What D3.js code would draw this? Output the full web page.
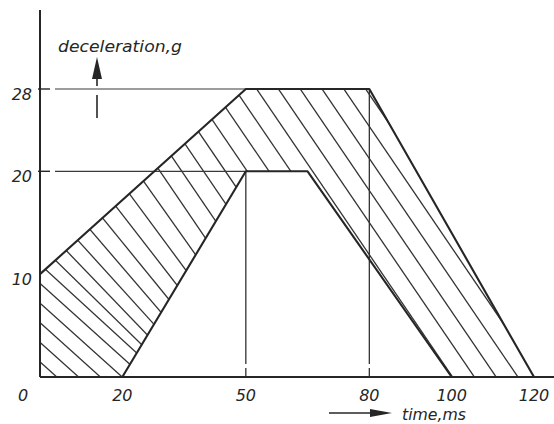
<!DOCTYPE html>
<html>
<head>
<meta charset="utf-8">
<script src="https://cdn.jsdelivr.net/npm/d3@7"></script>
<style>
  html, body { margin: 0; padding: 0; background: #fff; }
  svg { display: block; }
  text { font-family: "DejaVu Sans", sans-serif; font-style: italic; fill: #262626; }
</style>
</head>
<body>
<svg id="chart" width="554" height="424"></svg>
<script>
// ---- data ----
const xTickValues = [0, 20, 50, 80, 100, 120];          // time, ms
const yTickValues = [10, 20, 28];                       // deceleration, g
const gridValues = [20, 28];
const upperTime  = [0, 50, 80, 120];                    // upper limit corridor
const upperDecel = [10, 28, 28, 0];
const lowerTime  = [20, 50, 65, 100];                   // lower limit corridor
const lowerDecel = [0, 20, 20, 0];
const dropLines  = [{t: 50, g: 20}, {t: 80, g: 28}];
const yLabel = "deceleration,g";
const xLabel = "time,ms";

// ---- layout ----
const svg = d3.select("#chart");
const x = d3.scaleLinear().domain([0, 120]).range([40, 534]);
const y = d3.scaleLinear().domain([0, 28]).range([377, 89]);
const ink = "#262626";

const upper = upperTime.map((t, i) => [t, upperDecel[i]]);
const lower = lowerTime.map((t, i) => [t, lowerDecel[i]]);
const line = d3.line().x(d => x(d[0])).y(d => y(d[1]));

// hatched region = outer polygon minus inner polygon
const outerPoly = [[0, 0], ...upper];
const innerPoly = lower;
const defs = svg.append("defs");
defs.append("clipPath").attr("id", "hatchClip")
  .append("path")
  .attr("clip-rule", "evenodd")
  .attr("d", line(outerPoly) + "Z" + line(innerPoly) + "Z");

// hatch lines (hand-drawn look: slope steepens to the right)
const hatch = svg.append("g").attr("clip-path", "url(#hatchClip)");
const midY = 233;
for (let u = -125; u < 480; u += 21.8) {
  const t = Math.max(0, Math.min(1, u / 200));
  const s = 0.9 + t * (1.47 - 0.9);
  const x1 = u + (0 - midY) / s, x2 = u + (424 - midY) / s;
  hatch.append("line")
    .attr("x1", x1).attr("y1", 0).attr("x2", x2).attr("y2", 424)
    .attr("stroke", "#333").attr("stroke-width", 1.3);
}

// grid lines at 20 and 28
svg.append("g").selectAll("line").data(gridValues).join("line")
  .attr("x1", 55).attr("x2", x(50))
  .attr("y1", d => y(d)).attr("y2", d => y(d))
  .attr("stroke", "#3a3a3a").attr("stroke-width", 1.2);
// tick dashes on the y axis
svg.append("g").selectAll("line").data(gridValues).join("line")
  .attr("x1", x(0) - 2).attr("x2", x(0) + 10)
  .attr("y1", d => y(d)).attr("y2", d => y(d))
  .attr("stroke", ink).attr("stroke-width", 1.4);

// vertical drop lines at 50 and 80 (with a little gap near the axis)
dropLines.forEach(d => {
  svg.append("line").attr("x1", x(d.t)).attr("x2", x(d.t))
    .attr("y1", y(d.g)).attr("y2", y(0) - 13)
    .attr("stroke", "#333").attr("stroke-width", 1.3);
  svg.append("line").attr("x1", x(d.t)).attr("x2", x(d.t))
    .attr("y1", y(0) - 9).attr("y2", y(0))
    .attr("stroke", "#333").attr("stroke-width", 1.3);
});

// corridor boundaries
svg.append("path").attr("d", line(upper)).attr("fill", "none")
  .attr("stroke", ink).attr("stroke-width", 2.1).attr("stroke-linejoin", "round");
svg.append("path").attr("d", line(lower)).attr("fill", "none")
  .attr("stroke", ink).attr("stroke-width", 2.1).attr("stroke-linejoin", "round");

// axes
svg.append("line").attr("x1", x(0)).attr("x2", x(0)).attr("y1", 10).attr("y2", y(0))
  .attr("stroke", ink).attr("stroke-width", 2);
svg.append("line").attr("x1", x(0)).attr("x2", 554).attr("y1", y(0)).attr("y2", y(0))
  .attr("stroke", ink).attr("stroke-width", 2);

// tick labels
svg.append("g").selectAll("text").data(yTickValues).join("text")
  .attr("x", 32).attr("y", d => y(d) + 10.5)
  .attr("text-anchor", "end").attr("font-size", 16)
  .text(d => d);
svg.append("g").selectAll("text").data(xTickValues).join("text")
  .attr("x", d => d === 0 ? x(0) - 17 : x(d))
  .attr("y", 401)
  .attr("text-anchor", "middle").attr("font-size", 16)
  .text(d => d);

// y label with upward arrow
svg.append("text").attr("x", 58).attr("y", 52).attr("font-size", 16)
  .attr("textLength", 124).attr("lengthAdjust", "spacingAndGlyphs")
  .text(yLabel);
svg.append("path").attr("d", "M97,57 L92,79 L102,79 Z").attr("fill", ink);
svg.append("line").attr("x1", 97).attr("x2", 97).attr("y1", 78).attr("y2", 86)
  .attr("stroke", ink).attr("stroke-width", 1.6);
svg.append("line").attr("x1", 97).attr("x2", 97).attr("y1", 95).attr("y2", 118)
  .attr("stroke", ink).attr("stroke-width", 1.6);

// x label with rightward arrow
svg.append("line").attr("x1", 329).attr("x2", 372).attr("y1", 413).attr("y2", 413)
  .attr("stroke", ink).attr("stroke-width", 1.6);
svg.append("path").attr("d", "M392,413 L370,409 L370,417 Z").attr("fill", ink);
svg.append("text").attr("x", 402).attr("y", 420).attr("font-size", 16)
  .attr("textLength", 64).attr("lengthAdjust", "spacingAndGlyphs")
  .text(xLabel);
</script>
</body>
</html>
